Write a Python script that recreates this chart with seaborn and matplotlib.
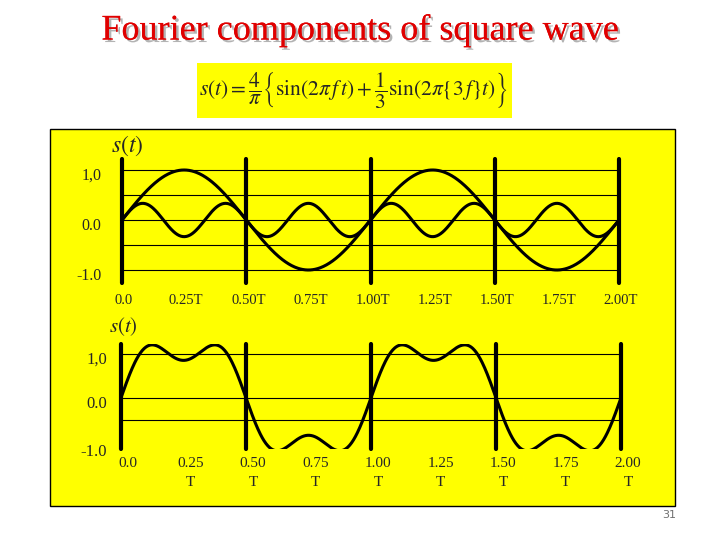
import numpy as np
import pandas as pd
import matplotlib
matplotlib.use("Agg")
import matplotlib.pyplot as plt
import matplotlib.patheffects as pe
from matplotlib.patches import Rectangle
from matplotlib.transforms import ScaledTranslation
import seaborn as sns

### DATA ###

# harmonic numbers and their relative amplitudes (fundamental, 3rd harmonic)
HARMONICS = [1, 3]
AMPLITUDES = [1.0, 1.0 / 3.0]
SUM_GAIN = 4 / np.pi          # the 4/pi in front of the braces
N_PERIODS = 2                 # time runs from 0 to 2T

PERIOD_LINES = [0.0, 0.5, 1.0, 1.5, 2.0]
TICKS_T = [0.0, 0.25, 0.5, 0.75, 1.0, 1.25, 1.5, 1.75, 2.0]
TOP_XLABELS = ["0.0", "0.25T", "0.50T", "0.75T", "1.00T", "1.25T", "1.50T", "1.75T", "2.00T"]
BOT_XLABELS = ["0.0", "0.25\nT", "0.50\nT", "0.75\nT", "1.00\nT", "1.25\nT", "1.50\nT", "1.75\nT", "2.00\nT"]

TOP_GRID = [1.0, 0.5, 0.0, -0.5, -1.0]
TOP_YTICKS = [1.0, 0.0, -1.0]
BOT_GRID = [1.0, 0.0, -0.5]
BOT_YTICKS = [1.0, 0.0, -1.09]
YLABELS = ["1,0", "0.0", "-1.0"]

### CURVES ###

t = np.linspace(0, N_PERIODS, 801)
comps = pd.DataFrame({"t": t})
for n, a in zip(HARMONICS, AMPLITUDES):
    comps[f"h{n}"] = a * np.sin(2 * np.pi * n * t)
comps["sum"] = SUM_GAIN * comps[[f"h{n}" for n in HARMONICS]].sum(axis=1)

### FIGURE ###

sns.set_style("white")
plt.rcParams["font.family"] = ["Liberation Serif", "DejaVu Serif"]
plt.rcParams["mathtext.fontset"] = "stix"

fig = plt.figure(figsize=(7.2, 5.4), dpi=100)
fig.patch.set_facecolor("white")

# yellow panel and formula box (behind the axes)
fig.patches.append(Rectangle((50 / 720, 1 - 506 / 540), 625 / 720, 377 / 540,
                             transform=fig.transFigure, facecolor="#ffff00",
                             edgecolor="black", lw=1, zorder=-1))
fig.patches.append(Rectangle((197 / 720, 1 - 118 / 540), 315 / 720, 55 / 540,
                             transform=fig.transFigure, facecolor="#ffff00",
                             edgecolor="none", zorder=-1))

fig.text(0.5, 1 - 31 / 540, "Fourier components of square wave", ha="center", va="center",
         fontsize=26, color="#e00000",
         path_effects=[pe.withSimplePatchShadow(offset=(1.8, -1.8), shadow_rgbFace="#a0a0a0", alpha=0.8),
                       pe.Normal()])
fig.text(354 / 720, 1 - 90 / 540,
         r"$s(t) = \dfrac{4}{\pi}\left\{\sin(2\pi\, f\, t) + \dfrac{1}{3}\sin(2\pi\{3\,f\}t)\right\}$",
         ha="center", va="center", fontsize=15.5)
fig.text(676 / 720, 1 - 515 / 540, "31", ha="right", va="center", fontsize=8,
         color="#707070", family="DejaVu Sans")

ax1 = fig.add_axes([122 / 720, 1 - 283 / 540, 497 / 720, 124 / 540])
ax2 = fig.add_axes([121 / 720, 1 - 449 / 540, 500 / 720, 105 / 540])

for ax in (ax1, ax2):
    ax.set_zorder(2)
    ax.set_facecolor("none")
    for s in ax.spines.values():
        s.set_visible(False)
    ax.set_xlim(0, N_PERIODS)
    ax.tick_params(length=0)
    for x in PERIOD_LINES:
        ax.axvline(x, color="black", lw=3, zorder=3, clip_on=False)

# top panel: the two components
for y in TOP_GRID:
    ax1.axhline(y, color="black", lw=0.8, zorder=1)
for n in HARMONICS:
    sns.lineplot(data=comps, x="t", y=f"h{n}", ax=ax1, color="black", lw=2.2, zorder=4)
ax1.set_ylim(-1.26, 1.22)
ax1.set_xticks(TICKS_T, TOP_XLABELS, fontsize=10.5)
ax1.set_yticks(TOP_YTICKS, YLABELS, fontsize=11.5)
ax1.tick_params(axis="x", pad=8)
ax1.tick_params(axis="y", pad=15)
ax1.set_xlabel("")
ax1.set_ylabel("")
ax1.text(-0.022, 1.01, r"$s(t)$", transform=ax1.transAxes, fontsize=17,
         ha="left", va="bottom")

# bottom panel: their sum
for y in BOT_GRID:
    ax2.axhline(y, color="black", lw=0.8, zorder=1)
sns.lineplot(data=comps, x="t", y="sum", ax=ax2, color="black", lw=2.2, zorder=4)
ax2.set_ylim(-1.16, 1.22)
ax2.set_xticks(TICKS_T, BOT_XLABELS, fontsize=11, linespacing=1.6)
ax2.set_yticks(BOT_YTICKS, YLABELS, fontsize=12)
ax2.tick_params(axis="x", pad=6)
ax2.tick_params(axis="y", pad=10)
ax2.set_xlabel("")
ax2.set_ylabel("")
ax2.text(-0.024, 1.06, r"$s(t)$", transform=ax2.transAxes, fontsize=15,
         ha="left", va="bottom")

# nudge labels the way the slide has them
down = ScaledTranslation(0, -4 / 100, fig.dpi_scale_trans)
for ax in (ax1, ax2):
    for lab in ax.get_yticklabels():
        lab.set_transform(lab.get_transform() + down)
for lab in ax1.get_xticklabels():
    lab.set_transform(lab.get_transform() + ScaledTranslation(2 / 100, 0, fig.dpi_scale_trans))
for lab in ax2.get_xticklabels():
    lab.set_transform(lab.get_transform() + ScaledTranslation(7 / 100, 0, fig.dpi_scale_trans))

fig.savefig("out.png", dpi=100)
